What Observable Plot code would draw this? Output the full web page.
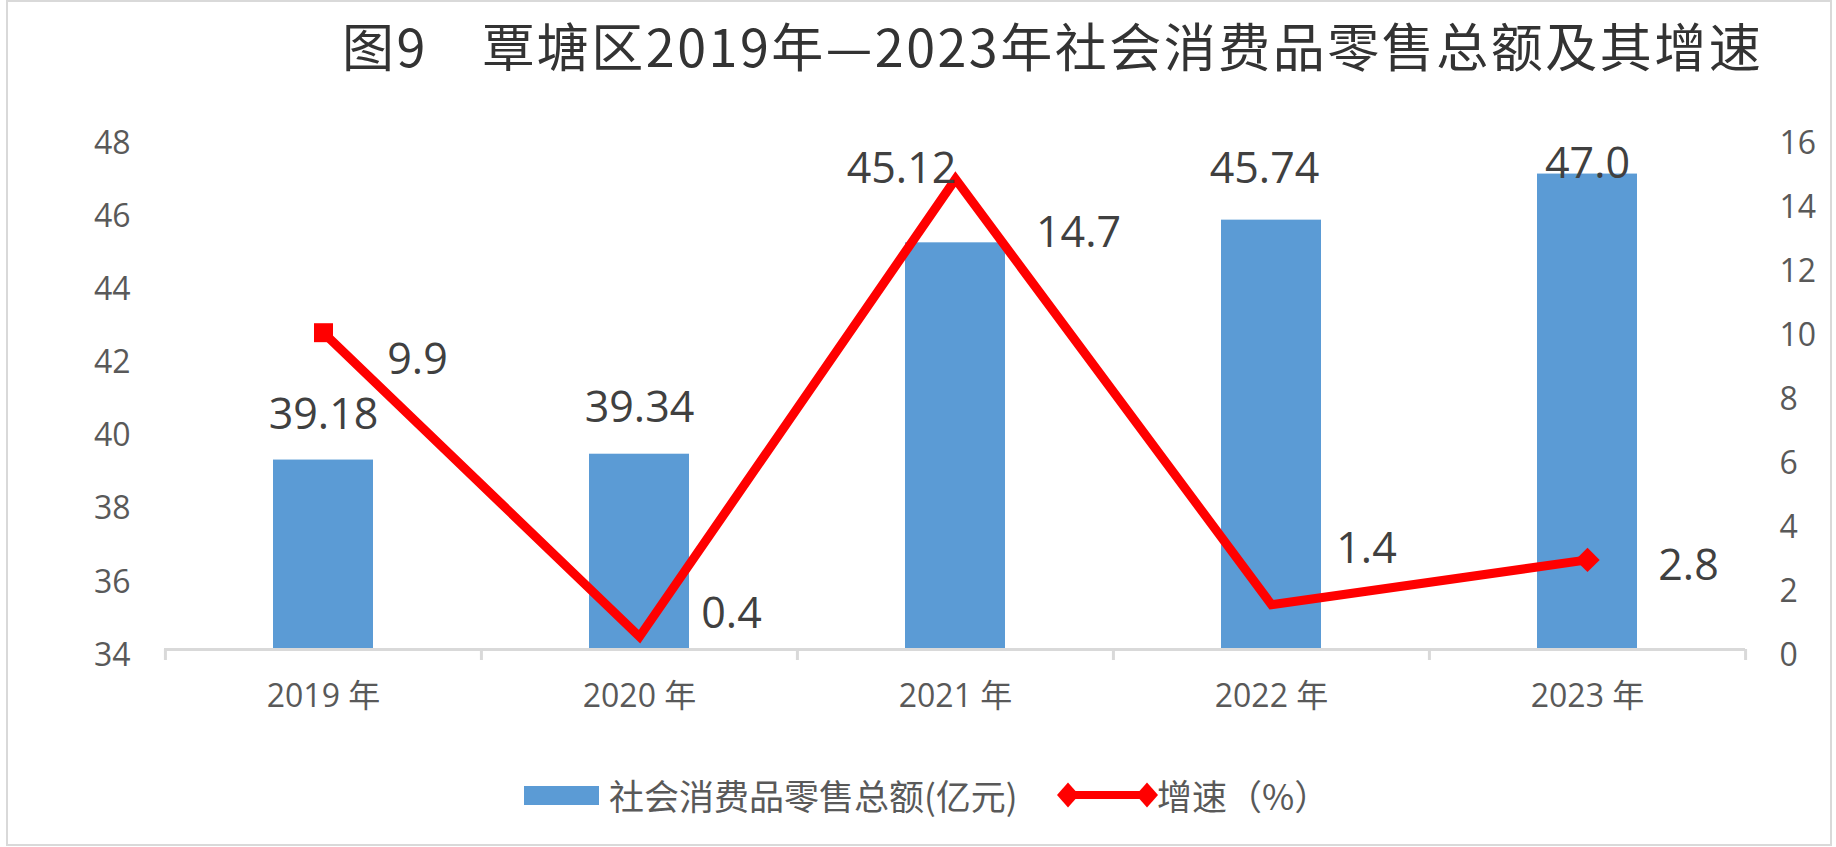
<!DOCTYPE html>
<html>
<head>
<meta charset="utf-8">
<script src="https://cdn.jsdelivr.net/npm/d3@7"></script>
<script src="https://cdn.jsdelivr.net/npm/@observablehq/plot@0.6"></script>
<style>
  html, body { margin: 0; padding: 0; background: #fff; }
  #chart { position: relative; width: 1836px; height: 847px; overflow: hidden; background: #fff; }
  #frame { position: absolute; left: 6px; top: 0; width: 1826px; height: 846px; border: 2px solid #d9d9d9; box-sizing: border-box; }
  #title { position: absolute; left: 342px; top: 14px; font-family: "Noto Sans CJK SC", sans-serif; font-weight: 400; font-size: 52px; letter-spacing: 2.5px; color: #333; white-space: pre; line-height: 62px; }
  #plot { position: absolute; left: 0; top: 90px; }
  .legend-item { position: absolute; }
  .legend-text { font-family: "Noto Sans CJK SC", sans-serif; font-size: 35px; color: #595959; line-height: 40px; white-space: pre; }
</style>
</head>
<body>
<div id="chart">
  <div id="frame"></div>
  <div id="title"></div>
  <div id="plot"></div>
  <div id="legend"></div>
</div>
<script>
// ---- data ----
const titleText = "图9　覃塘区2019年—2023年社会消费品零售总额及其增速";
const categories = ["2019", "2020", "2021", "2022", "2023"];
const xTickLabels = ["2019 年", "2020 年", "2021 年", "2022 年", "2023 年"];
const sales = [39.18, 39.34, 45.12, 45.74, 47.0];
const salesText = ["39.18", "39.34", "45.12", "45.74", "47.0"];
const growth = [9.9, 0.4, 14.7, 1.4, 2.8];
const growthText = ["9.9", "0.4", "14.7", "1.4", "2.8"];
const leftTicks = [34, 36, 38, 40, 42, 44, 46, 48];
const rightTicks = [0, 2, 4, 6, 8, 10, 12, 14, 16];
const seriesNames = ["社会消费品零售总额(亿元)", "增速（%）"];

// ---- layout / style ----
const W = 1836, H = 650, mL = 164, mR = 91, mT = 47, mB = 91;
const step = (W - mL - mR) / categories.length;
const leftDomain = [leftTicks[0], leftTicks[leftTicks.length - 1]];
const rightDomain = [rightTicks[0], rightTicks[rightTicks.length - 1]];
const rightToLeft = d3.scaleLinear().domain(rightDomain).range(leftDomain);
const pxPerUnit = (H - mT - mB) / (leftDomain[1] - leftDomain[0]);
const BAR = "#5B9BD5", RED = "#FF0000", AXIS = "#D9D9D9", TICKTXT = "#595959", LBL = "#404040";
const FONT = "'Open Sans', 'Noto Sans CJK SC', sans-serif";
const barLabelOffsets = [[0, -45], [0, -46], [-54, -74], [-7, -51], [0, -10]];
const lineLabelOffsets = [[94, 28], [92, -22], [123, 54], [95, -55], [101, 6]];

const data = categories.map((c, i) => ({
  cat: c, sales: sales[i], salesText: salesText[i],
  growth: growth[i], growthText: growthText[i], growthY: rightToLeft(growth[i])
}));

document.getElementById("title").textContent = titleText;

const tickLen = 11 / pxPerUnit;
const plot = Plot.plot({
  width: W, height: H,
  marginLeft: mL, marginRight: mR, marginTop: mT, marginBottom: mB,
  style: { fontFamily: FONT, fontSize: "32px", background: "transparent", overflow: "visible" },
  x: { type: "band", domain: categories, paddingInner: 0.684, paddingOuter: 0.342 },
  y: { domain: leftDomain },
  marks: [
    Plot.barY(data, { x: "cat", y1: leftDomain[0], y2: "sales", fill: BAR }),
    Plot.ruleY([leftDomain[0]], { stroke: AXIS, strokeWidth: 3 }),
    Plot.ruleX(data, { x: "cat", dx: -step / 2, y1: leftDomain[0], y2: leftDomain[0] - tickLen, stroke: AXIS, strokeWidth: 3 }),
    Plot.ruleX(data.slice(-1), { x: "cat", dx: step / 2, y1: leftDomain[0], y2: leftDomain[0] - tickLen, stroke: AXIS, strokeWidth: 3 }),
    Plot.axisX({ tickSize: 0, tickPadding: 35, fontSize: 32, color: TICKTXT, fill: TICKTXT, label: null,
      tickFormat: d => xTickLabels[categories.indexOf(d)] }),
    Plot.axisY(leftTicks, { anchor: "left", tickSize: 0, tickPadding: 34, fontSize: 32, color: TICKTXT, fill: TICKTXT, dy: 6, label: null }),
    Plot.axisY(rightTicks.map(rightToLeft), { anchor: "right", tickSize: 0, tickPadding: 34, fontSize: 32, color: TICKTXT, fill: TICKTXT, dy: 6, label: null,
      tickFormat: d => String(Math.round(rightToLeft.invert(d))) }),
    Plot.line(data, { x: "cat", y: "growthY", stroke: RED, strokeWidth: 9, strokeLinejoin: "miter", strokeMiterlimit: 10 }),
    Plot.dot(data.slice(0, 1), { x: "cat", y: "growthY", symbol: "square", r: 10.7, fill: RED }),
    Plot.dot(data.slice(-1), { x: "cat", y: "growthY", symbol: "diamond2", r: 11, fill: RED }),
    ...data.map((d, i) => Plot.text([d], { x: "cat", y: "sales", text: "salesText", dx: barLabelOffsets[i][0], dy: barLabelOffsets[i][1], fontSize: 43, fill: LBL })),
    ...data.map((d, i) => Plot.text([d], { x: "cat", y: "growthY", text: "growthText", dx: lineLabelOffsets[i][0], dy: lineLabelOffsets[i][1], fontSize: 43, fill: LBL }))
  ]
});
document.getElementById("plot").appendChild(plot);

// ---- legend ----
const legend = document.getElementById("legend");
function add(html, style) {
  const el = document.createElement("div");
  el.className = "legend-item";
  Object.assign(el.style, style);
  el.innerHTML = html;
  legend.appendChild(el);
  return el;
}
add("", { left: "524px", top: "786px", width: "75px", height: "19px", background: BAR });
const t1 = add("", { left: "609px", top: "775px" }); t1.className += " legend-text"; t1.textContent = seriesNames[0];
add(`<svg width="101" height="30" viewBox="0 0 101 30">
  <line x1="11" y1="15" x2="90" y2="15" stroke="${RED}" stroke-width="8"/>
  <polygon points="0,15 11,2.5 22,15 11,27.5" fill="${RED}"/>
  <polygon points="79,15 90,2.5 101,15 90,27.5" fill="${RED}"/>
</svg>`, { left: "1057px", top: "780px", width: "101px", height: "30px" });
const t2 = add("", { left: "1157px", top: "775px" }); t2.className += " legend-text"; t2.textContent = seriesNames[1];
</script>
</body>
</html>
